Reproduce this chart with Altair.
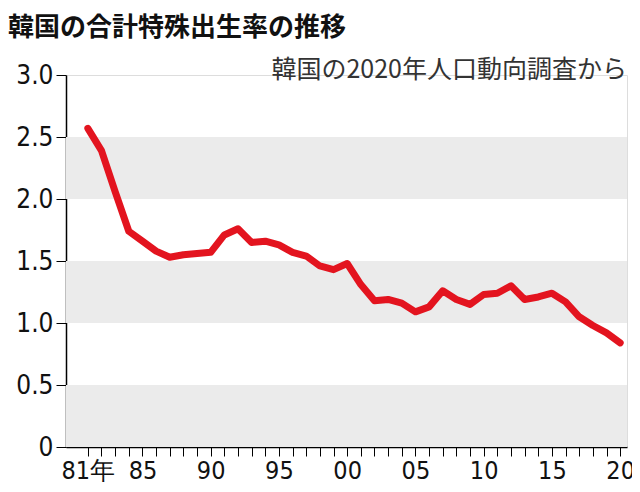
import altair as alt
import pandas as pd

years = list(range(1981, 2021))
tfr = [2.57, 2.39, 2.06, 1.74, 1.66, 1.58, 1.53, 1.55, 1.56, 1.57,
       1.71, 1.76, 1.65, 1.66, 1.63, 1.57, 1.54, 1.46, 1.43, 1.48,
       1.31, 1.18, 1.19, 1.16, 1.09, 1.13, 1.26, 1.19, 1.15, 1.23,
       1.24, 1.30, 1.19, 1.21, 1.24, 1.17, 1.05, 0.98, 0.92, 0.84]
band_lo = [0.0, 1.0, 2.0]
band_hi = [0.5, 1.5, 2.5]

W, H = 561, 372
FONT = "'DejaVu Sans Condensed', 'Liberation Sans Narrow', 'Noto Sans', sans-serif"
JP = "Noto Sans CJK JP"

df = pd.DataFrame({"year": years, "tfr": tfr})
bands = pd.DataFrame({"lo": band_lo, "hi": band_hi})

yscale = alt.Scale(domain=[0, 3], nice=False, zero=False)
xscale = alt.Scale(domain=[1979.4, 2020.5], nice=False, zero=False)

band_layer = alt.Chart(bands).mark_rect(color="#ebebeb").encode(
    x=alt.value(0), x2=alt.value(W),
    y=alt.Y("lo:Q", scale=yscale, axis=alt.Axis(
        values=[0, 0.5, 1, 1.5, 2, 2.5, 3], labelExpr="datum.value == 0 ? '0' : format(datum.value, '.1f')",
        title=None, grid=False, domainColor="#000", domainWidth=1.5, tickColor="#000",
        tickSize=10, labelFontSize=26, labelFont=FONT, labelColor="#111", labelPadding=3)),
    y2="hi:Q",
)

line = alt.Chart(df).mark_line(color="#e3141f", strokeWidth=7, strokeJoin="round", strokeCap="round").encode(
    x=alt.X("year:Q", scale=xscale, axis=alt.Axis(
        values=years,
        labelExpr="datum.value == 1981 ? '81年' : (datum.value % 5 == 0 ? substring(toString(datum.value), 2, 4) : '')",
        title=None, grid=False, domainColor="#000", domainWidth=1.5, tickColor="#000",
        tickSize=9, labelFontSize=25, labelFont=FONT, labelColor="#111", labelPadding=2,
        labelFlush=False, labelOverlap=False)),
    y=alt.Y("tfr:Q", scale=yscale),
)

texts = alt.Chart(pd.DataFrame({"t": ["韓国の2020年人口動向調査から"]})).mark_text(
    align="right", baseline="bottom", fontSize=25, font=JP, color="#333"
).encode(x=alt.value(W), y=alt.value(8), text="t:N")

title = alt.Chart(pd.DataFrame({"t": ["韓国の合計特殊出生率の推移"]})).mark_text(
    align="left", baseline="bottom", fontSize=26, font=JP, fontWeight="bold", color="#111"
).encode(x=alt.value(-58), y=alt.value(-34), text="t:N")

chart = alt.layer(band_layer, line, texts, title).properties(
    width=W, height=H,
    autosize=alt.AutoSizeParams(type="none"),
    padding={"left": 58, "top": 67, "right": 5, "bottom": 40},
).configure_view(stroke=None).configure(background="white")

chart.save("out.html", embed_options={"renderer": "svg", "actions": False})
